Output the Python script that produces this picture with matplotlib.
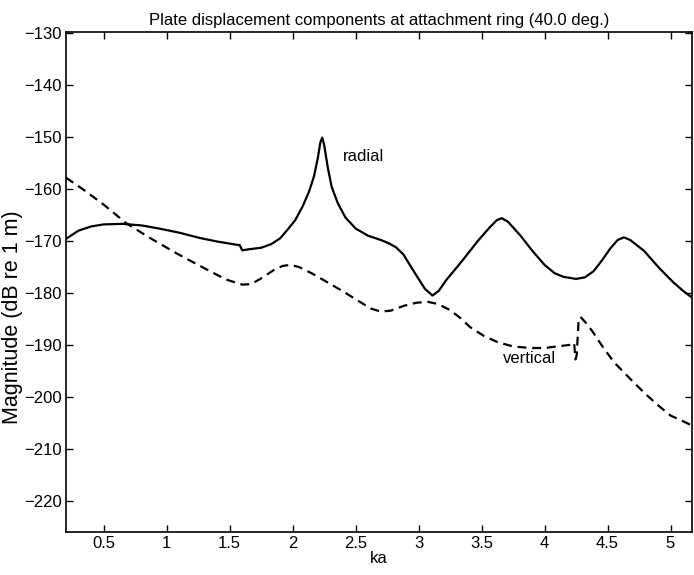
import numpy as np
import matplotlib
matplotlib.use("Agg")
import matplotlib.pyplot as plt
from matplotlib.ticker import FuncFormatter

# radial displacement (solid)
ka_radial = [0.20, 0.30, 0.40, 0.50, 0.65, 0.80, 0.94, 1.10, 1.26, 1.40,
             1.55, 1.58, 1.60, 1.65, 1.75, 1.83, 1.90, 1.96, 2.02, 2.08,
             2.13, 2.17, 2.20, 2.22, 2.235, 2.25, 2.28, 2.31, 2.36, 2.42,
             2.50, 2.60, 2.70, 2.76, 2.82, 2.88, 2.94, 3.00, 3.05, 3.11,
             3.16, 3.22, 3.33, 3.47, 3.56, 3.62, 3.66, 3.71, 3.81, 3.90,
             4.00, 4.08, 4.15, 4.25, 4.32, 4.39, 4.46, 4.52, 4.58, 4.63,
             4.68, 4.79, 4.91, 5.02, 5.10, 5.16]
mag_radial = [-169.6, -168.0, -167.2, -166.8, -166.7, -167.0, -167.6, -168.4, -169.4, -170.1,
              -170.7, -170.8, -171.8, -171.6, -171.3, -170.6, -169.5, -167.8, -166.0, -163.3,
              -160.5, -157.5, -154.0, -151.0, -150.1, -151.5, -156.0, -159.6, -162.8, -165.5,
              -167.6, -169.0, -169.8, -170.4, -171.2, -172.6, -175.0, -177.3, -179.2, -180.5,
              -179.6, -177.5, -174.3, -170.0, -167.5, -166.0, -165.6, -166.3, -169.0, -171.8,
              -174.6, -176.2, -176.9, -177.3, -177.0, -175.8, -173.6, -171.5, -169.8, -169.3,
              -169.8, -171.9, -175.2, -177.9, -179.6, -180.7]

# vertical displacement (dashed)
ka_vert = [0.20, 0.35, 0.50, 0.68, 0.88, 1.08, 1.28, 1.47, 1.60, 1.67,
           1.75, 1.85, 1.92, 1.98, 2.05, 2.15, 2.28, 2.42, 2.54, 2.62,
           2.70, 2.78, 2.88, 2.98, 3.07, 3.15, 3.25, 3.33, 3.41, 3.52,
           3.63, 3.75, 3.89, 4.00, 4.10, 4.20, 4.235, 4.245, 4.255, 4.27,
           4.285, 4.33, 4.38, 4.46, 4.55, 4.65, 4.79, 4.90, 5.00, 5.10, 5.16]
mag_vert = [-157.8, -160.3, -163.0, -166.6, -169.6, -172.4, -175.0, -177.4, -178.4, -178.3,
            -177.2, -175.6, -174.8, -174.6, -175.0, -176.2, -178.0, -180.0, -181.8, -183.0,
            -183.6, -183.4, -182.5, -181.9, -181.7, -182.1, -183.3, -184.8, -186.6, -188.3,
            -189.5, -190.3, -190.6, -190.6, -190.3, -190.0, -189.6, -192.8, -192.0, -185.5,
            -184.6, -185.8, -187.4, -190.3, -193.3, -195.8, -199.2, -201.6, -203.6, -204.7, -205.4]

x_ticks = [0.5, 1, 1.5, 2, 2.5, 3, 3.5, 4, 4.5, 5]
y_ticks = [-220, -210, -200, -190, -180, -170, -160, -150, -140, -130]

plt.rcParams['font.family'] = ['Liberation Sans', 'DejaVu Sans']

fig = plt.figure(figsize=(6.94, 5.75), dpi=100)
ax = fig.add_axes([0.095, 0.075, 0.902, 0.869])

ax.plot(ka_radial, mag_radial, color='black', lw=1.6)
ax.plot(ka_vert, mag_vert, color='black', lw=1.6, dashes=(4, 2.6))

ax.text(2.4, -153.7, 'radial', fontsize=12, va='center', ha='left')
ax.text(3.67, -192.7, 'vertical', fontsize=12, va='center', ha='left')

ax.set_xlim(0.2, 5.17)
ax.set_ylim(-226, -129.8)
ax.set_xticks(x_ticks)
ax.set_yticks(y_ticks)
ax.xaxis.set_major_formatter(FuncFormatter(lambda v, p: '%g' % v))
ax.yaxis.set_major_formatter(FuncFormatter(lambda v, p: ('\u2212%g' % -v) if v < 0 else '%g' % v))
ax.tick_params(direction='in', top=True, right=True, length=5, width=1, labelsize=12, pad=3)
for sp in ax.spines.values():
    sp.set_linewidth(1.2)

ax.set_title('Plate displacement components at attachment ring (40.0 deg.)', fontsize=12, pad=5)
ax.set_xlabel('ka', fontsize=12, labelpad=0)
ax.set_ylabel('Magnitude (dB re 1 m)', fontsize=15.5)
ax.yaxis.set_label_coords(-0.068, 0.429)

fig.savefig('out.png', dpi=100)
